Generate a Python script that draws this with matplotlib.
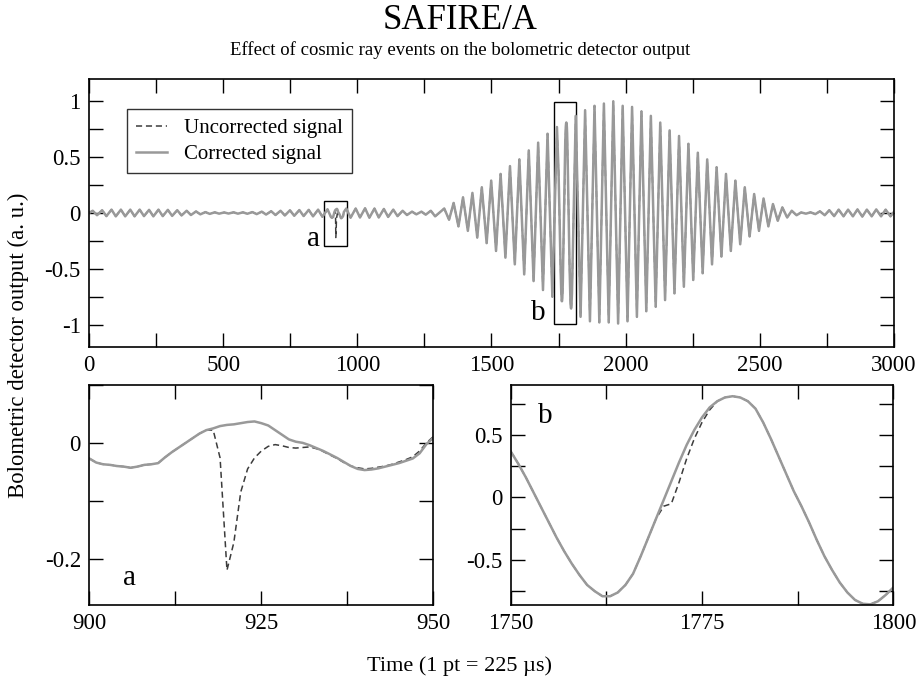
import numpy as np
import matplotlib.pyplot as plt
from matplotlib.patches import Rectangle
from matplotlib.ticker import MultipleLocator, FormatStrFormatter

plt.rcParams['font.family'] = ['Liberation Serif', 'DejaVu Serif']
plt.rcParams['axes.unicode_minus'] = False

# --- overview signal: local maxima / minima ---
peak_t = [14, 49, 84, 119, 154, 189, 224, 259, 294, 329, 364, 399, 434, 469, 504,
          539, 574, 609, 644, 679, 714, 749, 784, 819, 854, 889, 924, 959, 994, 1029,
          1064, 1099, 1134, 1169, 1204, 1239, 1274,
          1324, 1359, 1394, 1429, 1464, 1499, 1534, 1569, 1604, 1639, 1674, 1709, 1744,
          1779, 1814, 1849, 1884, 1919, 1954, 1989, 2024, 2059, 2094, 2129, 2164, 2199,
          2234, 2269, 2304, 2339, 2374, 2409, 2444, 2479, 2514, 2549, 2584, 2619,
          2654, 2689, 2724, 2759, 2794, 2829, 2864, 2899, 2934, 2969]
peak_v = [0.02, 0.025, 0.03, 0.03, 0.03, 0.03, 0.028, 0.03, 0.028, 0.025, 0.02, 0.014,
          0.008, 0.006, 0.005, 0.006, 0.006, 0.008, 0.012, 0.016, 0.02, 0.024, 0.026,
          0.028, 0.03, 0.033, 0.037, 0.04, 0.04, 0.042, 0.04, 0.036, 0.03, 0.02, 0.012,
          0.012, 0.02,
          0.04, 0.09, 0.14, 0.18, 0.23, 0.29, 0.35, 0.42, 0.48, 0.56, 0.63, 0.71, 0.77,
          0.81, 0.87, 0.92, 0.96, 0.98, 1.00, 0.96, 0.95, 0.91, 0.87, 0.81, 0.74, 0.69,
          0.62, 0.54, 0.48, 0.41, 0.35, 0.29, 0.23, 0.17, 0.13, 0.08, 0.05, 0.02,
          0.005, 0.006, 0.015, 0.025, 0.03, 0.03, 0.032, 0.03, 0.032, 0.03]
trough_t = [30, 65, 100, 135, 170, 205, 240, 275, 310, 345, 380, 415, 450, 485, 520,
            555, 590, 625, 660, 695, 730, 765, 800, 835, 870, 905, 940, 975, 1010, 1045,
            1080, 1115, 1150, 1185, 1220, 1255, 1290,
            1342, 1377, 1412, 1447, 1482, 1517, 1552, 1587, 1622, 1657, 1692, 1727, 1762,
            1797, 1832, 1867, 1902, 1937, 1972, 2007, 2042, 2077, 2112, 2147, 2182, 2217,
            2252, 2287, 2322, 2357, 2392, 2427, 2462, 2497, 2532, 2567, 2602,
            2637, 2672, 2707, 2742, 2777, 2812, 2847, 2882, 2917, 2952, 2987]
trough_v = [-0.02, -0.028, -0.03, -0.03, -0.03, -0.028, -0.03, -0.028, -0.026, -0.022,
            -0.018, -0.012, -0.008, -0.006, -0.005, -0.006, -0.007, -0.01, -0.014, -0.018,
            -0.022, -0.025, -0.027, -0.03, -0.034, -0.043, -0.047, -0.042, -0.04, -0.042,
            -0.04, -0.035, -0.028, -0.018, -0.012, -0.015, -0.03,
            -0.06, -0.12, -0.16, -0.22, -0.27, -0.34, -0.40, -0.46, -0.55, -0.61, -0.69,
            -0.75, -0.79, -0.855, -0.93, -0.97, -0.98, -0.98, -0.99, -0.97, -0.93, -0.88,
            -0.84, -0.78, -0.72, -0.66, -0.60, -0.54, -0.46, -0.39, -0.34, -0.28, -0.21,
            -0.16, -0.12, -0.07, -0.04,
            -0.02, -0.006, -0.01, -0.02, -0.028, -0.03, -0.03, -0.032, -0.03, -0.03, -0.03]
end_t = [0, 3000]
end_v = [0.0, 0.01]

# --- zoom a: points 900-950 ---
a_t = np.arange(900, 951)
a_corr = [-0.027, -0.034, -0.037, -0.038, -0.040, -0.041, -0.043, -0.041, -0.038, -0.037,
          -0.035, -0.025, -0.016, -0.008, 0.000, 0.008, 0.016, 0.022, 0.025, 0.029,
          0.031, 0.032, 0.034, 0.036, 0.037, 0.034, 0.030, 0.022, 0.014, 0.006,
          0.002, 0.000, -0.004, -0.009, -0.014, -0.020, -0.026, -0.033, -0.040, -0.045,
          -0.047, -0.046, -0.044, -0.041, -0.038, -0.035, -0.031, -0.027, -0.018, -0.002,
          0.009]
a_unc = [-0.027, -0.034, -0.037, -0.038, -0.040, -0.041, -0.043, -0.041, -0.038, -0.037,
         -0.035, -0.025, -0.016, -0.008, 0.000, 0.008, 0.016, 0.022, 0.022, -0.026,
         -0.220, -0.172, -0.085, -0.045, -0.026, -0.014, -0.006, -0.003, -0.005, -0.008,
         -0.009, -0.008, -0.007, -0.010, -0.015, -0.021, -0.027, -0.034, -0.040, -0.043,
         -0.045, -0.044, -0.042, -0.040, -0.037, -0.033, -0.029, -0.024, -0.014, 0.000,
         0.011]

# --- zoom b: points 1750-1800 ---
b_t = np.arange(1750, 1801)
b_corr = [0.37, 0.27, 0.16, 0.04, -0.08, -0.20, -0.32, -0.43, -0.53, -0.62,
          -0.70, -0.75, -0.79, -0.79, -0.76, -0.70, -0.61, -0.47, -0.32, -0.17,
          -0.02, 0.13, 0.28, 0.42, 0.54, 0.64, 0.72, 0.77, 0.80, 0.81,
          0.80, 0.77, 0.71, 0.60, 0.47, 0.33, 0.19, 0.05, -0.07, -0.20,
          -0.34, -0.47, -0.58, -0.68, -0.76, -0.82, -0.85, -0.855, -0.83, -0.78,
          -0.72]
b_unc = [0.37, 0.27, 0.16, 0.04, -0.08, -0.20, -0.32, -0.43, -0.53, -0.62,
         -0.70, -0.75, -0.79, -0.79, -0.76, -0.70, -0.61, -0.47, -0.32, -0.17,
         -0.07, -0.05, 0.12, 0.31, 0.47, 0.60, 0.70, 0.77, 0.80, 0.81,
         0.80, 0.77, 0.71, 0.60, 0.47, 0.33, 0.19, 0.05, -0.07, -0.20,
         -0.34, -0.47, -0.58, -0.68, -0.76, -0.82, -0.85, -0.855, -0.83, -0.78,
         -0.72]

SOLID = '#999999'
DASH = '#3c3c3c'


def splice(t, v, win_t, win_v):
    # put the detailed samples of a zoom window into the overview series
    win_t = np.asarray(win_t, float)
    keep = (t < win_t[0]) | (t > win_t[-1])
    tt = np.concatenate([t[keep], win_t])
    vv = np.concatenate([v[keep], np.asarray(win_v, float)])
    o = np.argsort(tt, kind='stable')
    return tt[o], vv[o]


ext_t = np.array(peak_t + trough_t + end_t, float)
ext_v = np.array(peak_v + trough_v + end_v, float)
o = np.argsort(ext_t)
ext_t, ext_v = ext_t[o], ext_v[o]

corr_t, corr_v = splice(ext_t, ext_v, a_t, a_corr)
corr_t, corr_v = splice(corr_t, corr_v, b_t, b_corr)
unc_t, unc_v = splice(ext_t, ext_v, a_t, a_unc)
unc_t, unc_v = splice(unc_t, unc_v, b_t, b_unc)


def style(ax, xmaj, xmin, ymaj, ymin):
    ax.xaxis.set_major_locator(MultipleLocator(xmaj))
    ax.xaxis.set_minor_locator(MultipleLocator(xmin))
    ax.yaxis.set_major_locator(MultipleLocator(ymaj))
    ax.yaxis.set_minor_locator(MultipleLocator(ymin))
    ax.xaxis.set_major_formatter(FormatStrFormatter('%g'))
    ax.yaxis.set_major_formatter(FormatStrFormatter('%g'))
    ax.tick_params(which='both', direction='in', top=True, right=True,
                   width=1.0, labelsize=16.5, pad=6)
    ax.tick_params(which='major', length=10)
    ax.tick_params(which='minor', length=10)
    for s in ax.spines.values():
        s.set_linewidth(1.2)


fig = plt.figure(figsize=(9.2, 6.93), dpi=100)

ax = fig.add_axes([0.0967, 0.4993, 0.875, 0.3867])
ax.plot(unc_t, unc_v, color=DASH, lw=1.1, dashes=(4, 2.5), label='Uncorrected signal')
ax.plot(corr_t, corr_v, color=SOLID, lw=1.8, label='Corrected signal')
ax.add_patch(Rectangle((876, -0.30), 86, 0.41, fill=False, ec='black', lw=1.0))
ax.add_patch(Rectangle((1733, -0.99), 81, 1.98, fill=False, ec='black', lw=1.0))
ax.text(835, -0.23, 'a', fontsize=21, ha='center', va='center')
ax.text(1673, -0.90, 'b', fontsize=21, ha='center', va='center')
ax.set_xlim(0, 3000)
ax.set_ylim(-1.2, 1.2)
style(ax, 500, 250, 0.5, 0.25)
leg = ax.legend(loc='upper left', bbox_to_anchor=(0.047, 0.888), borderaxespad=0,
                fontsize=15, frameon=True, fancybox=False, edgecolor='black',
                handlelength=1.5, handletextpad=0.8, labelspacing=0.3, borderpad=0.45)
leg.get_frame().set_linewidth(1.0)

axa = fig.add_axes([0.0971, 0.127, 0.374, 0.3175])
axa.plot(a_t, a_unc, color=DASH, lw=1.1, dashes=(4, 2.5))
axa.plot(a_t, a_corr, color=SOLID, lw=1.8)
axa.text(905.9, -0.234, 'a', fontsize=21, ha='center', va='center')
axa.set_xlim(900, 950)
axa.set_ylim(-0.28, 0.1)
style(axa, 25, 12.5, 0.2, 0.1)

axb = fig.add_axes([0.555, 0.127, 0.416, 0.3175])
axb.plot(b_t, b_unc, color=DASH, lw=1.1, dashes=(4, 2.5))
axb.plot(b_t, b_corr, color=SOLID, lw=1.8)
axb.text(1754.5, 0.65, 'b', fontsize=21, ha='center', va='center')
axb.set_xlim(1750, 1800)
axb.set_ylim(-0.86, 0.9)
style(axb, 25, 12.5, 0.5, 0.25)

fig.text(0.5, 0.970, 'SAFIRE/A', fontsize=25, ha='center', va='center')
fig.text(0.5, 0.928, 'Effect of cosmic ray events on the bolometric detector output',
         fontsize=13.5, ha='center', va='center')
fig.text(0.0196, 0.502, 'Bolometric detector output (a. u.)', fontsize=16.4,
         rotation=90, ha='center', va='center')
fig.text(0.5, 0.039, 'Time (1 pt = 225 µs)', fontsize=16, ha='center', va='center')

fig.savefig('out.png', dpi=100)
